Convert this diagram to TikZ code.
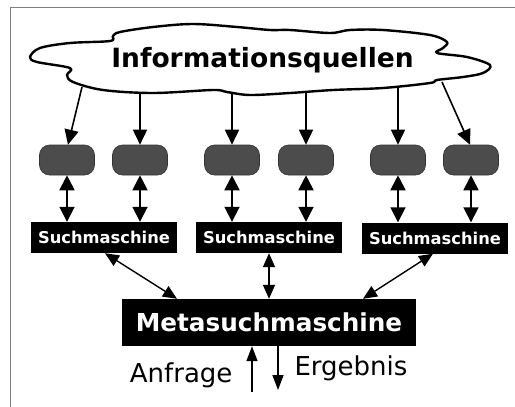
\documentclass[tikz,border=0pt]{standalone}
\usepackage{fontspec}
\setmainfont{DejaVu Sans}
\usetikzlibrary{arrows.meta}
\begin{document}
\begin{tikzpicture}[x=1pt,y=-1pt,
  blob/.style={draw=black!80, line width=0.6pt, fill=black!70, rounded corners=10pt, minimum width=55pt, minimum height=30pt, inner sep=0pt},
  sbox/.style={fill=black, text=white, font=\bfseries\fontsize{16.3}{18}\selectfont, minimum width=146pt, minimum height=31pt, inner sep=0pt},
  mbox/.style={fill=black, text=white, font=\bfseries\fontsize{24.7}{28}\selectfont, minimum width=294pt, minimum height=47pt, inner sep=0pt},
  fl/.style={-{Triangle[length=15pt,width=14pt]}, line width=1.6pt},
  dl/.style={{Triangle[length=15pt,width=15pt]}-{Triangle[length=15pt,width=15pt]}, line width=1.8pt},
  ml/.style={{Triangle[length=14pt,width=12pt]}-{Triangle[length=14pt,width=12pt]}, line width=1.4pt},
  ul/.style={-{Triangle[length=15pt,width=11pt]}, line width=1.6pt},
  lbl/.style={font=\fontsize{26}{28}\selectfont},
]
\useasboundingbox (0,0) rectangle (515,407);
% frame
\draw[gray, line width=1.5pt] (515,7.5) -- (10.5,7.5) -- (10.5,407);
% cloud
\draw[line width=2.4pt, fill=white, line join=round] plot[smooth cycle, tension=0.55] coordinates {
 (30,57) (40,48) (70,43) (110,41) (113,36) (120,32) (153,27) (193,24) (237,27) (270,30)
 (290,30) (330,33) (350,30) (383,30) (430,35) (447,42) (443,48) (437,53) (467,57) (490,65)
 (483,73) (463,77) (437,80) (430,83) (383,88) (333,90) (290,93) (250,95) (227,92) (213,90)
 (153,93) (103,90) (73,82) (67,75) (70,68) (37,62)};
\node[font=\bfseries\fontsize{26.5}{30}\selectfont, anchor=base] (iq) at (262.5,67) {Informationsquellen};
\coordinate (c1) at (82,87);
\coordinate (c2) at (140,93);
\coordinate (c3) at (232,93);
\coordinate (c4) at (306,91);
\coordinate (c5) at (398,87);
\coordinate (c6) at (442,82);
% blobs
\node[blob] (b1) at (67,160) {};
\node[blob] (b2) at (140,160) {};
\node[blob] (b3) at (232,160) {};
\node[blob] (b4) at (306,160) {};
\node[blob] (b5) at (398,160) {};
\node[blob] (b6) at (471,160) {};
\draw[fl] (c1) -- ([xshift=1pt]b1.north);
\draw[fl] (c2) -- (b2.north);
\draw[fl] (c3) -- (b3.north);
\draw[fl] (c4) -- (b4.north);
\draw[fl] (c5) -- (b5.north);
\draw[fl] (c6) -- ([xshift=-1pt]b6.north);
% search engines
\node[sbox] (s1) at (104,237.5) {Suchmaschine};
\node[sbox] (s2) at (269,237.5) {Suchmaschine};
\node[sbox] (s3) at (435,238) {Suchmaschine};
\draw[dl] (b1.south) -- (b1.south |- s1.north);
\draw[dl] (b2.south) -- (b2.south |- s1.north);
\draw[dl] (b3.south) -- (b3.south |- s2.north);
\draw[dl] (b4.south) -- (b4.south |- s2.north);
\draw[dl] (b5.south) -- (b5.south |- s3.north);
\draw[dl] (b6.south) -- (b6.south |- s3.north);
% meta
\node[mbox] (m) at (269,322.5) {Metasuchmaschine};
\draw[ml] ([xshift=1pt]s1.south) -- ([xshift=-92pt]m.north);
\draw[ml] (s2.south) -- (m.north);
\draw[ml] ([xshift=-2pt]s3.south) -- ([xshift=94pt]m.north);
% query / result
\coordinate (qa) at (252,392);
\coordinate (rb) at (278,390);
\draw[ul] (qa) -- (qa |- m.south);
\draw[ul] (rb |- m.south) -- (rb);
\node[lbl, anchor=base east] (anf) at (236,382) {Anfrage};
\node[lbl, anchor=base west] (erg) at (291,375) {Ergebnis};
\end{tikzpicture}
\end{document}
